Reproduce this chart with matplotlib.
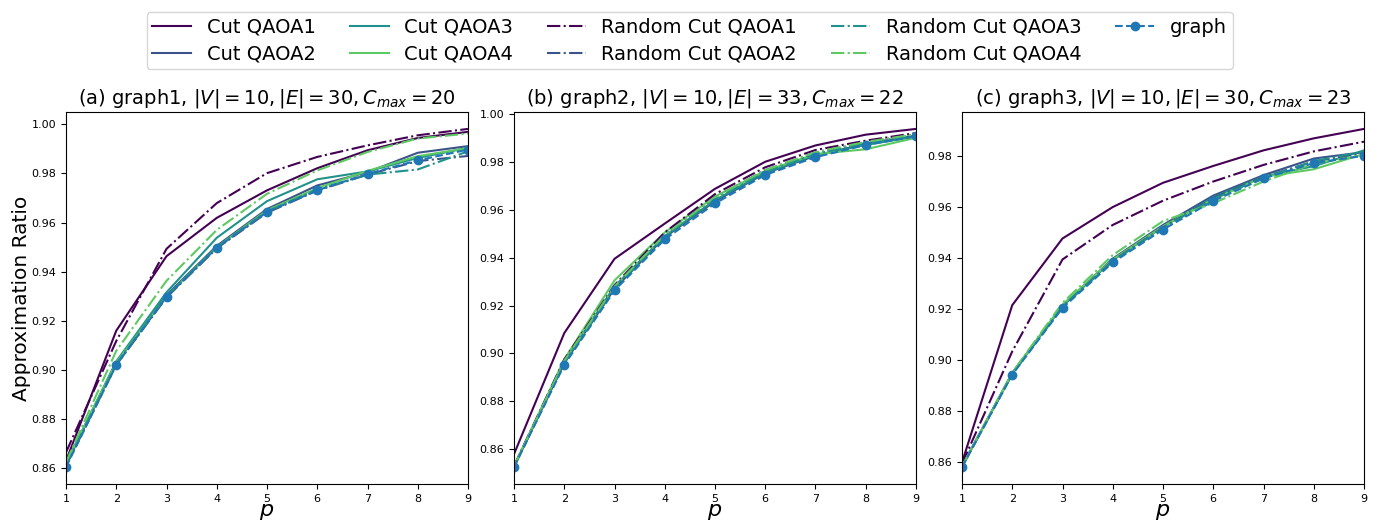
import matplotlib
matplotlib.use("Agg")
import matplotlib.pyplot as plt
import numpy as np

p = [1, 2, 3, 4, 5, 6, 7, 8, 9]

titles = [
    r"(a) graph1, $|V| = 10, |E| = 30, C_{max} = 20$",
    r"(b) graph2, $|V| = 10, |E| = 33, C_{max} = 22$",
    r"(c) graph3, $|V| = 10, |E| = 30, C_{max} = 23$",
]

series_names = ["Cut QAOA1", "Cut QAOA2", "Cut QAOA3", "Cut QAOA4",
                "Random Cut QAOA1", "Random Cut QAOA2", "Random Cut QAOA3", "Random Cut QAOA4",
                "graph"]

# graph1
g1_cut1 = [0.8630, 0.9160, 0.9463, 0.9619, 0.9731, 0.9821, 0.9894, 0.9944, 0.9969]
g1_cut2 = [0.8615, 0.9030, 0.9305, 0.9505, 0.9655, 0.9751, 0.9805, 0.9884, 0.9911]
g1_cut3 = [0.8620, 0.9035, 0.9316, 0.9538, 0.9687, 0.9776, 0.9808, 0.9863, 0.9904]
g1_cut4 = [0.8620, 0.9030, 0.9300, 0.9500, 0.9650, 0.9740, 0.9810, 0.9870, 0.9903]
g1_rcut1 = [0.8665, 0.9118, 0.9493, 0.9679, 0.9801, 0.9867, 0.9914, 0.9955, 0.9981]
g1_rcut2 = [0.8610, 0.9020, 0.9295, 0.9495, 0.9640, 0.9730, 0.9795, 0.9850, 0.9871]
g1_rcut3 = [0.8615, 0.9025, 0.9300, 0.9500, 0.9645, 0.9735, 0.9795, 0.9816, 0.9890]
g1_rcut4 = [0.8625, 0.9078, 0.9363, 0.9570, 0.9717, 0.9812, 0.9887, 0.9942, 0.9962]
g1_graph = [0.8605, 0.9020, 0.9298, 0.9497, 0.9643, 0.9731, 0.9798, 0.9853, 0.9897]

# graph2
g2_cut1 = [0.8580, 0.9085, 0.9395, 0.9542, 0.9687, 0.9800, 0.9868, 0.9913, 0.9937]
g2_cut2 = [0.8528, 0.8960, 0.9270, 0.9485, 0.9635, 0.9752, 0.9825, 0.9875, 0.9910]
g2_cut3 = [0.8530, 0.8965, 0.9280, 0.9490, 0.9640, 0.9755, 0.9828, 0.9870, 0.9905]
g2_cut4 = [0.8530, 0.8975, 0.9305, 0.9505, 0.9655, 0.9762, 0.9832, 0.9852, 0.9900]
g2_rcut1 = [0.8530, 0.8975, 0.9285, 0.9505, 0.9665, 0.9777, 0.9849, 0.9888, 0.9920]
g2_rcut2 = [0.8528, 0.8965, 0.9275, 0.9495, 0.9650, 0.9765, 0.9838, 0.9880, 0.9913]
g2_rcut3 = [0.8527, 0.8960, 0.9270, 0.9488, 0.9642, 0.9758, 0.9832, 0.9878, 0.9910]
g2_rcut4 = [0.8530, 0.8970, 0.9280, 0.9495, 0.9652, 0.9765, 0.9840, 0.9883, 0.9915]
g2_graph = [0.8526, 0.8952, 0.9263, 0.9476, 0.9626, 0.9745, 0.9819, 0.9870, 0.9906]

# graph3
g3_cut1 = [0.8600, 0.9216, 0.9477, 0.9600, 0.9695, 0.9761, 0.9822, 0.9869, 0.9906]
g3_cut2 = [0.8585, 0.8950, 0.9215, 0.9398, 0.9530, 0.9645, 0.9725, 0.9790, 0.9815]
g3_cut3 = [0.8585, 0.8948, 0.9212, 0.9392, 0.9522, 0.9638, 0.9720, 0.9760, 0.9822]
g3_cut4 = [0.8585, 0.8950, 0.9218, 0.9395, 0.9525, 0.9630, 0.9718, 0.9748, 0.9808]
g3_rcut1 = [0.8595, 0.9035, 0.9395, 0.9530, 0.9625, 0.9700, 0.9765, 0.9818, 0.9856]
g3_rcut2 = [0.8583, 0.8948, 0.9210, 0.9390, 0.9520, 0.9635, 0.9718, 0.9778, 0.9812]
g3_rcut3 = [0.8583, 0.8946, 0.9210, 0.9388, 0.9518, 0.9632, 0.9715, 0.9780, 0.9818]
g3_rcut4 = [0.8585, 0.8952, 0.9225, 0.9412, 0.9545, 0.9615, 0.9700, 0.9770, 0.9805]
g3_graph = [0.8582, 0.8944, 0.9205, 0.9383, 0.9512, 0.9624, 0.9712, 0.9772, 0.9801]

panels = [
    [g1_cut1, g1_cut2, g1_cut3, g1_cut4, g1_rcut1, g1_rcut2, g1_rcut3, g1_rcut4, g1_graph],
    [g2_cut1, g2_cut2, g2_cut3, g2_cut4, g2_rcut1, g2_rcut2, g2_rcut3, g2_rcut4, g2_graph],
    [g3_cut1, g3_cut2, g3_cut3, g3_cut4, g3_rcut1, g3_rcut2, g3_rcut3, g3_rcut4, g3_graph],
]

cmap = plt.get_cmap("viridis")
base_colors = [cmap(0.0), cmap(0.25), cmap(0.5), cmap(0.75)]

fig = plt.figure(figsize=(13.79, 5.23), dpi=100)
W, H = 1379, 523
lefts = [66, 514, 962]
axes = []
for i, left in enumerate(lefts):
    ax = fig.add_axes([left / W, 1 - 484 / H, 402 / W, 372 / H])
    axes.append(ax)
    data = panels[i]
    handles = []
    for k in range(4):
        h, = ax.plot(p, data[k], color=base_colors[k], lw=1.5, linestyle="-")
        handles.append(h)
    for k in range(4):
        h, = ax.plot(p, data[4 + k], color=base_colors[k], lw=1.5, linestyle="-.")
        handles.append(h)
    h, = ax.plot(p, data[8], color="#1f77b4", lw=1.5, linestyle="--", marker="o", markersize=6)
    handles.append(h)
    ax.set_xlim(1, 9)
    ax.set_xticks(p)
    ax.tick_params(labelsize=8)
    ax.set_xlabel("$p$", fontsize=16, labelpad=-1)
    ax.set_title(titles[i], fontsize=14)
    if i == 0:
        ax.set_ylabel("Approximation Ratio", fontsize=14.5, labelpad=0)
        leg_handles = handles

fig.legend(leg_handles, series_names, loc="upper center", bbox_to_anchor=(0.5, 0.996),
           ncol=5, fontsize=14, handlelength=2.0, columnspacing=1.75, labelspacing=0.4,
           borderpad=0.3)

fig.savefig("out.png", dpi=100)
